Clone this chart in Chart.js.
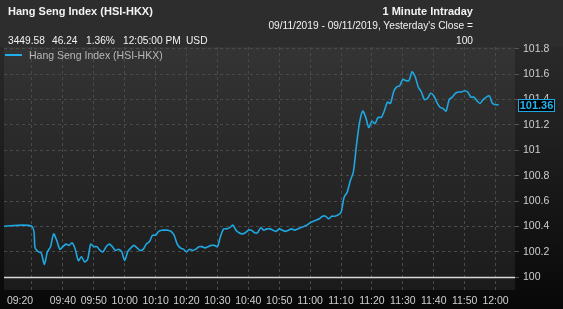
<!DOCTYPE html>
<html>
<head>
<meta charset="utf-8">
<script src="https://cdn.jsdelivr.net/npm/chart.js@4.4.1/dist/chart.umd.min.js"></script>
<style>
  html, body { margin: 0; padding: 0; background: #000; }
  #wrap { position: relative; width: 563px; height: 309px; overflow: hidden; font-family: "Liberation Sans", Arial, sans-serif; }
  #c { position: absolute; left: 0; top: 0; }
  .t { position: absolute; white-space: nowrap; line-height: 12px; font-size: 10.2px; color: #f2f2f2; }
  .b { font-weight: bold; font-size: 11px; }
  .r { text-align: right; }
  #legend { position: absolute; left: 5px; top: 49px; font-size: 10.5px; color: #b8b8b8; line-height: 12px; white-space: nowrap; }
  #legend .sw { position: absolute; left: 0; top: 5px; width: 17px; height: 2px; background: #1fb0ec; }
  #legend .lt { position: absolute; left: 24px; top: 0; }
</style>
</head>
<body>
<div id="wrap">
  <canvas id="c" width="563" height="309"></canvas>
  <div class="t b" style="left:8px; top:5px;">Hang Seng Index (HSI-HKX)</div>
  <div class="t b r" style="right:90px; top:5px;">1 Minute Intraday</div>
  <div class="t r" style="right:90px; top:20px;">09/11/2019 - 09/11/2019, Yesterday's Close =</div>
  <div class="t r" style="right:90px; top:35px;">100</div>
  <div class="t" style="left:8px; top:35px;">3449.58</div>
  <div class="t" style="left:52px; top:35px;">46.24</div>
  <div class="t" style="left:86px; top:35px;">1.36%</div>
  <div class="t" style="left:123px; top:35px;">12:05:00 PM</div>
  <div class="t" style="left:186px; top:35px;">USD</div>
  <div id="legend"><div class="sw"></div><div class="lt">Hang Seng Index (HSI-HKX)</div></div>
</div>
<script>
// ---- data ----
const times = [
  "09:20",
  "09:30","09:31","09:32","09:33","09:34","09:35","09:36","09:37","09:38","09:39",
  "09:40","09:41","09:42","09:43","09:44","09:45","09:46","09:47","09:48","09:49",
  "09:50","09:51","09:52","09:53","09:54","09:55","09:56","09:57","09:58","09:59",
  "10:00","10:01","10:02","10:03","10:04","10:05","10:06","10:07","10:08","10:09",
  "10:10","10:11","10:12","10:13","10:14","10:15","10:16","10:17","10:18","10:19",
  "10:20","10:21","10:22","10:23","10:24","10:25","10:26","10:27","10:28","10:29",
  "10:30","10:31","10:32","10:33","10:34","10:35","10:36","10:37","10:38","10:39",
  "10:40","10:41","10:42","10:43","10:44","10:45","10:46","10:47","10:48","10:49",
  "10:50","10:51","10:52","10:53","10:54","10:55","10:56","10:57","10:58","10:59",
  "11:00","11:01","11:02","11:03","11:04","11:05","11:06","11:07","11:08","11:09",
  "11:10","11:11","11:12","11:13","11:14","11:15","11:16","11:17","11:18","11:19",
  "11:20","11:21","11:22","11:23","11:24","11:25","11:26","11:27","11:28","11:29",
  "11:30","11:31","11:32","11:33","11:34","11:35","11:36","11:37","11:38","11:39",
  "11:40","11:41","11:42","11:43","11:44","11:45","11:46","11:47","11:48","11:49",
  "11:50","11:51","11:52","11:53","11:54","11:55","11:56","11:57","11:58","11:59",
  "12:00","12:01"
];
const values = [
  100.40,
  100.40,100.23,100.20,100.19,100.10,100.20,100.24,100.34,100.29,100.22,
  100.24,100.26,100.25,100.27,100.22,100.13,100.16,100.12,100.14,100.26,
  100.24,100.24,100.21,100.20,100.24,100.26,100.24,100.21,100.22,100.20,
  100.13,100.20,100.23,100.25,100.23,100.21,100.22,100.26,100.28,100.33,
  100.33,100.36,100.37,100.37,100.37,100.36,100.33,100.26,100.23,100.22,
  100.20,100.22,100.21,100.22,100.24,100.24,100.23,100.24,100.25,100.25,
  100.24,100.32,100.38,100.38,100.39,100.41,100.37,100.35,100.34,100.35,
  100.37,100.37,100.35,100.35,100.39,100.37,100.38,100.38,100.37,100.36,
  100.38,100.37,100.36,100.37,100.38,100.37,100.38,100.39,100.40,100.41,
  100.43,100.44,100.45,100.46,100.48,100.48,100.46,100.48,100.48,100.49,
  100.51,100.63,100.67,100.76,100.83,101.04,101.22,101.31,101.26,101.18,
  101.23,101.21,101.26,101.26,101.31,101.38,101.37,101.46,101.50,101.51,
  101.56,101.55,101.55,101.62,101.58,101.50,101.46,101.40,101.41,101.45,
  101.43,101.38,101.34,101.33,101.31,101.40,101.42,101.45,101.46,101.46,
  101.47,101.46,101.42,101.42,101.39,101.37,101.40,101.42,101.43,101.37,
  101.36,101.36
];
const xTickLabels = ["09:20","09:30","09:40","09:50","10:00","10:10","10:20","10:30","10:40","10:50","11:00","11:10","11:20","11:30","11:40","11:50","12:00"];
const xHiddenLabels = ["09:30"];
const yTickValues = [100, 100.2, 100.4, 100.6, 100.8, 101, 101.2, 101.4, 101.6, 101.8];
const baseline = 100; // yesterday's close
const lastValue = 101.36;

// ---- helpers ----
const OPEN = 9 * 60 + 30;
function toMin(t) { const [h, m] = t.split(":").map(Number); return h * 60 + m - OPEN; }
const X_MIN = -9.06, X_MAX = 156.3;
const LINE = '#1ea7e0';

const points = times.map((t, i) => ({ x: toMin(t), y: values[i] }));

const bgPlugin = {
  id: 'bg',
  beforeDraw(chart) {
    const { ctx, chartArea: a, width, height } = chart;
    ctx.save();
    let g = ctx.createLinearGradient(0, 0, 0, height);
    g.addColorStop(0, '#2e2e2e');
    g.addColorStop(0.45, '#1f1f1f');
    g.addColorStop(1, '#080808');
    ctx.fillStyle = g;
    ctx.fillRect(0, 0, width, height);
    ctx.fillStyle = '#2d2d2d';
    ctx.fillRect(0, 0, width, a.top);
    g = ctx.createLinearGradient(0, a.top, 0, a.bottom);
    g.addColorStop(0, '#343434');
    g.addColorStop(1, '#1b1b1b');
    ctx.fillStyle = g;
    ctx.fillRect(a.left, a.top, a.right - a.left, a.bottom - a.top);
    ctx.restore();
  },
  beforeDatasetsDraw(chart) {
    const { ctx, chartArea: a } = chart;
    const y = Math.round(chart.scales.y.getPixelForValue(baseline)) + 0.5;
    ctx.save();
    ctx.strokeStyle = '#d8d8d8';
    ctx.lineWidth = 1.5;
    ctx.beginPath();
    ctx.moveTo(a.left, y);
    ctx.lineTo(a.right, y);
    ctx.stroke();
    ctx.restore();
  },
  afterDraw(chart) {
    const { ctx, chartArea: a } = chart;
    const y = Math.round(chart.scales.y.getPixelForValue(lastValue));
    ctx.save();
    ctx.fillStyle = '#000';
    ctx.fillRect(a.right + 3, y - 6, 37, 13);
    ctx.strokeStyle = LINE;
    ctx.lineWidth = 1;
    ctx.strokeRect(a.right + 3.5, y - 5.5, 36, 12);
    ctx.fillStyle = '#22b4ef';
    ctx.font = 'bold 11px "Liberation Sans", Arial, sans-serif';
    ctx.textAlign = 'center';
    ctx.textBaseline = 'middle';
    ctx.fillText(lastValue.toFixed(2), a.right + 21.5, y + 1);
    ctx.restore();
  }
};

new Chart(document.getElementById('c'), {
  type: 'line',
  data: {
    datasets: [{
      label: 'Hang Seng Index (HSI-HKX)',
      data: points,
      borderColor: LINE,
      borderWidth: 1.6,
      pointRadius: 0,
      tension: 0.25,
      fill: false
    }]
  },
  options: {
    responsive: false,
    animation: false,
    layout: { padding: { top: 47, left: 4, right: 0, bottom: 0 } },
    plugins: { legend: { display: false }, tooltip: { enabled: false } },
    scales: {
      x: {
        type: 'linear',
        min: X_MIN,
        max: X_MAX,
        afterBuildTicks(scale) {
          scale.ticks = xTickLabels.map(l => {
            let v = toMin(l);
            if (v < X_MIN) v = X_MIN + 5.2; // first label sits at the axis start
            return { value: v };
          });
        },
        afterFit(scale) { scale.height = 19; },
        grid: {
          color: ctx => (ctx.tick && ctx.tick.value < 0) ? 'rgba(0,0,0,0)' : '#4a4a4a',
          lineWidth: 1,
          drawTicks: false
        },
        border: { display: false, dash: [3, 3] },
        ticks: {
          autoSkip: false,
          maxRotation: 0,
          padding: 5,
          color: '#d0d0d0',
          font: { family: '"Liberation Sans", Arial, sans-serif', size: 10.5 },
          callback: (v, i) => xHiddenLabels.includes(xTickLabels[i]) ? '' : xTickLabels[i]
        }
      },
      y: {
        position: 'right',
        min: 99.898,
        max: 101.815,
        afterBuildTicks(scale) { scale.ticks = yTickValues.map(v => ({ value: v })); },
        afterFit(scale) { scale.width = 48; },
        grid: {
          color: '#4a4a4a',
          lineWidth: 1,
          drawTicks: true,
          tickLength: 4,
          tickColor: '#555'
        },
        border: { display: false, dash: [3, 3] },
        ticks: {
          padding: 4,
          color: '#cfcfcf',
          font: { family: '"Liberation Sans", Arial, sans-serif', size: 10.5 },
          callback: v => String(Number(v.toFixed(1)))
        }
      }
    }
  },
  plugins: [bgPlugin]
});
</script>
</body>
</html>
